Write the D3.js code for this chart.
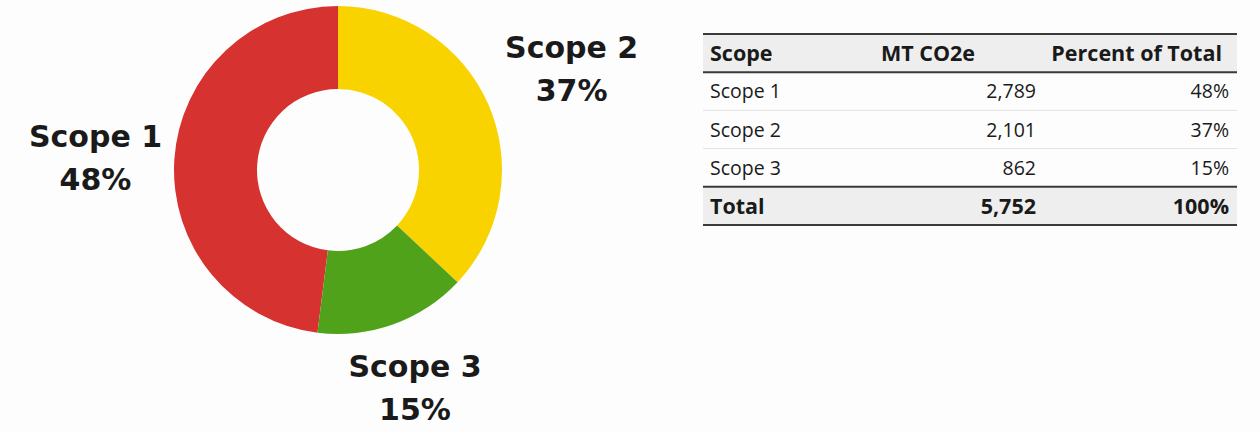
<!DOCTYPE html>
<html>
<head>
<meta charset="utf-8">
<script src="https://cdn.jsdelivr.net/npm/d3@7"></script>
<style>
  body { margin: 0; background: #fff; }
  svg { display: block; }
</style>
</head>
<body>
<div class="chart"></div>
<script>
// Data
const scopes = ['Scope 1', 'Scope 2', 'Scope 3'];
const mtCO2e = [2789, 2101, 862];
const percents = [48, 37, 15];
const totalLabel = 'Total';
const headers = ['Scope', 'MT CO2e', 'Percent of Total'];
const scopeColors = ['#d6322f', '#f9d300', '#4fa21a'];

const svg_width = 1260;
const svg_height = 432;

const svg = d3.select('.chart').append('svg')
    .attr('width', svg_width).attr('height', svg_height);

svg.append('rect').attr('width', svg_width).attr('height', svg_height).attr('fill', '#fdfdfd');

// Donut
const cx = 338, cy = 170;
const outerR = 164, innerR = 81;
const total = d3.sum(percents);
// scope 1 ends at 12 o'clock, scope 2 starts there
const start = -2 * Math.PI * percents[0] / total;
const pie = d3.pie().sort(null).value(d => d.pct)
    .startAngle(start).endAngle(start + 2 * Math.PI);
const pieData = pie(scopes.map((s, i) => ({ scope: s, pct: percents[i], color: scopeColors[i] })));
const arc = d3.arc().innerRadius(innerR).outerRadius(outerR);

const donut = svg.append('g').attr('transform', `translate(${cx},${cy})`);
donut.selectAll('path').data(pieData).join('path')
    .attr('d', arc)
    .attr('fill', d => d.data.color);

// labels around the donut
const labelArc = d3.arc().innerRadius(248).outerRadius(248);
const nudge = [[5, 4], [6, -3], [-7, -15]];
const labels = donut.selectAll('g.lbl').data(pieData).join('g').attr('class', 'lbl')
    .attr('transform', (d, i) => {
        const c = labelArc.centroid(d);
        return `translate(${c[0] + nudge[i][0]},${c[1] + nudge[i][1]})`;
    });
labels.append('text').attr('y', -11).text(d => d.data.scope);
labels.append('text').attr('y', 32).text(d => d.data.pct + '%');
labels.selectAll('text')
    .attr('text-anchor', 'middle')
    .style('font-family', '"DejaVu Sans", sans-serif')
    .style('font-weight', 'bold')
    .style('font-size', '30px')
    .style('fill', '#1a1a1a');

// Table
const tbl = { left: 703, right: 1237, top: 34, bottom: 225 };
const rows = [headers].concat(
    scopes.map((s, i) => [s, d3.format(',')(mtCO2e[i]), percents[i] + '%']),
    [[totalLabel, d3.format(',')(d3.sum(mtCO2e)), total + '%']]
);
const yScale = d3.scaleBand().domain(d3.range(rows.length)).range([tbl.top, tbl.bottom]);
const rh = yScale.bandwidth();

const table = svg.append('g').attr('class', 'table');
// shaded header & total rows
table.selectAll('rect.shade').data([0, rows.length - 1]).join('rect')
    .attr('class', 'shade')
    .attr('x', tbl.left).attr('width', tbl.right - tbl.left)
    .attr('y', d => yScale(d)).attr('height', rh)
    .attr('fill', '#eeeeee');

// faint row separators
table.selectAll('line.sep').data([2, 3]).join('line')
    .attr('class', 'sep')
    .attr('x1', tbl.left).attr('x2', tbl.right)
    .attr('y1', d => yScale(d)).attr('y2', d => yScale(d))
    .attr('stroke', '#e2e2e2').attr('stroke-width', 1);

// heavy rules
table.selectAll('line.rule').data([0, 1, rows.length - 1, rows.length]).join('line')
    .attr('class', 'rule')
    .attr('x1', tbl.left).attr('x2', tbl.right)
    .attr('y1', d => d === rows.length ? tbl.bottom : yScale(d))
    .attr('y2', d => d === rows.length ? tbl.bottom : yScale(d))
    .attr('stroke', '#3a3a3a').attr('stroke-width', 2);

// column text positions
const colX = [710, 1036, 1229];
const colAnchor = ['start', 'end', 'end'];
const headX = [710, 975, 1222];

rows.forEach((r, ri) => {
    const bold = ri === 0 || ri === rows.length - 1;
    r.forEach((cell, ci) => {
        table.append('text')
            .attr('x', ri === 0 ? headX[ci] : colX[ci])
            .attr('y', yScale(ri) + rh / 2)
            .attr('dy', '0.36em')
            .attr('text-anchor', colAnchor[ci])
            .style('font-family', '"Open Sans", sans-serif')
            .style('font-weight', bold ? 'bold' : 'normal')
            .style('font-size', bold ? '21.5px' : '19.5px')
            .style('fill', '#1a1a1a')
            .text(cell);
    });
});
</script>
</body>
</html>
